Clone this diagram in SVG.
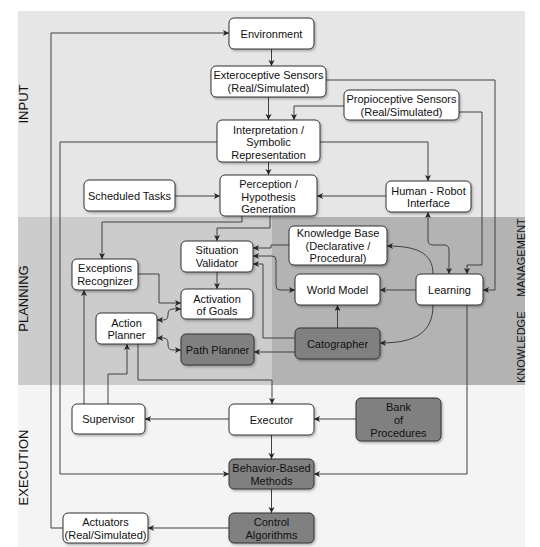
<svg xmlns="http://www.w3.org/2000/svg" width="540" height="547" viewBox="0 0 540 547">
<defs>
<style>
.nd{fill:#ffffff;stroke:#333333;stroke-width:1}
.dk{fill:#808080;stroke:#333333;stroke-width:1}
text{font-family:"Liberation Sans",Arial,sans-serif;font-size:11px;fill:#111111;text-anchor:middle}
.lbl{font-size:13px;text-anchor:middle;fill:#111111}
.km{font-size:11px;text-anchor:start}
.c{fill:none;stroke:#404040;stroke-width:1;stroke-linejoin:round}
</style>
<filter id="sh" x="-10%" y="-10%" width="130%" height="140%">
<feDropShadow dx="1.2" dy="1.5" stdDeviation="0.8" flood-color="#000" flood-opacity="0.3"/>
</filter>
<marker id="a" markerWidth="7" markerHeight="7" refX="6" refY="3" orient="auto-start-reverse" markerUnits="userSpaceOnUse">
<path d="M0,0 L6,3 L0,6 L1.5,3 z" fill="#262626"/>
</marker>
</defs>

<g id="background">
<rect x="18" y="11" width="507" height="206" fill="#e6e6e6"/>
<rect x="18" y="217" width="507" height="168" fill="#cccccc"/>
<rect x="272" y="217" width="253" height="168" fill="#b3b3b3"/>
<rect x="18" y="385" width="507" height="162" fill="#f4f4f4"/>
<text class="lbl" transform="translate(28,104) rotate(-90)">INPUT</text>
<text class="lbl" transform="translate(28,298.5) rotate(-90)">PLANNING</text>
<text class="lbl" transform="translate(28,467.5) rotate(-90)">EXECUTION</text>
<text class="km" transform="translate(525,383) rotate(-90)">KNOWLEDGE</text>
<text class="km" transform="translate(525,297) rotate(-90)">MANAGEMENT</text>
</g>

<g id="connectors">
<path class="c" marker-end="url(#a)" d="M271.5,49 L271.5,66"/>
<path class="c" marker-end="url(#a)" d="M268.5,97 L268.5,120"/>
<path class="c" marker-end="url(#a)" d="M268.5,162 L268.5,175"/>
<path class="c" marker-end="url(#a)" d="M326,80 L495,80 L495,290 L483,290"/>
<path class="c" marker-end="url(#a)" d="M459,112 L482,112 L482,265 L467,265 L467,274"/>
<path class="c" marker-end="url(#a)" d="M344,106 L294,106 L294,120"/>
<path class="c" marker-end="url(#a)" d="M320,142 L428,142 L428,181"/>
<path class="c" marker-end="url(#a)" d="M386,196 L317,196"/>
<path class="c" marker-end="url(#a)" d="M175,196 L220,196"/>
<path class="c" marker-end="url(#a)" d="M217,142 L60,142 L60,474 L229,474"/>
<path class="c" marker-end="url(#a)" d="M63,528 L51,528 L51,33 L229,33"/>
<path class="c" marker-start="url(#a)" marker-end="url(#a)" d="M428,212 L428,240 Q428,245 433,245 L444,245 Q449,245 449,250 L449,274"/>
<path class="c" marker-end="url(#a)" d="M242,216 L242,222 L102,222 L102,259"/>
<path class="c" marker-end="url(#a)" d="M270,216 L270,228 L217,228 L217,241"/>
<path class="c" marker-end="url(#a)" d="M289,245 L271,245 L271,248 L253,248"/>
<path class="c" marker-start="url(#a)" marker-end="url(#a)" d="M253,256 L272,256 Q276,256 276,260 L276,286 Q276,290 280,290 L295,290"/>
<path class="c" marker-end="url(#a)" d="M295,338 L263,338 L263,264 L253,264"/>
<path class="c" marker-end="url(#a)" d="M295,352 L254,352"/>
<path class="c" marker-end="url(#a)" d="M433,274 C433,252 415,246 387,246"/>
<path class="c" marker-end="url(#a)" d="M416,290 L380,290"/>
<path class="c" marker-end="url(#a)" d="M433,305 C433,333 415,343 380,343"/>
<path class="c" marker-end="url(#a)" d="M337.5,328 L337.5,305"/>
<path class="c" marker-end="url(#a)" d="M467,305 L467,474 L314,474"/>
<path class="c" marker-end="url(#a)" d="M217,272 L217,289"/>
<path class="c" marker-end="url(#a)" d="M138,274 L159,274 L159,303 L181,303"/>
<path class="c" marker-start="url(#a)" marker-end="url(#a)" d="M157,320 L163,320 Q168,320 168,315 L168,314 Q168,309 173,309 L181,309"/>
<path class="c" marker-start="url(#a)" marker-end="url(#a)" d="M157,338 L163,338 Q168,338 168,343 L168,345 Q168,350 173,350 L181,350"/>
<path class="c" marker-end="url(#a)" d="M138,344 L138,380 L272,380 L272,404"/>
<path class="c" marker-end="url(#a)" d="M108,404 L108,374 L127,374 L127,344"/>
<path class="c" marker-end="url(#a)" d="M84,404 L84,290"/>
<path class="c" marker-end="url(#a)" d="M229,419 L145,419"/>
<path class="c" marker-end="url(#a)" d="M356,419 L314,419"/>
<path class="c" marker-end="url(#a)" d="M271.5,435 L271.5,459"/>
<path class="c" marker-end="url(#a)" d="M271.5,489 L271.5,513"/>
<path class="c" marker-end="url(#a)" d="M229,528 L148,528"/>
</g>

<g id="environment"><rect class="nd" filter="url(#sh)" x="229" y="18" width="85" height="31" rx="5"/><text x="271.5" y="37.5">Environment</text></g>
<g id="exteroceptive"><rect class="nd" filter="url(#sh)" x="211" y="66" width="115" height="31" rx="5"/><text x="268.5" y="79">Exteroceptive Sensors</text><text x="268.5" y="92">(Real/Simulated)</text></g>
<g id="propioceptive"><rect class="nd" filter="url(#sh)" x="344" y="90" width="115" height="30" rx="5"/><text x="401.5" y="103">Propioceptive Sensors</text><text x="401.5" y="116">(Real/Simulated)</text></g>
<g id="interpretation"><rect class="nd" filter="url(#sh)" x="217" y="120" width="103" height="42" rx="5"/><text x="268.5" y="133.5">Interpretation /</text><text x="268.5" y="146">Symbolic</text><text x="268.5" y="158.5">Representation</text></g>
<g id="perception"><rect class="nd" filter="url(#sh)" x="220" y="175" width="97" height="41" rx="5"/><text x="268.5" y="188">Perception /</text><text x="268.5" y="200.5">Hypothesis</text><text x="268.5" y="213">Generation</text></g>
<g id="scheduled"><rect class="nd" filter="url(#sh)" x="84" y="180" width="91" height="31" rx="5"/><text x="129.5" y="199.5">Scheduled Tasks</text></g>
<g id="hri"><rect class="nd" filter="url(#sh)" x="386" y="181" width="85" height="31" rx="5"/><text x="428.5" y="194.5">Human - Robot</text><text x="428.5" y="206.5">Interface</text></g>
<g id="kb"><rect class="nd" filter="url(#sh)" x="289" y="226" width="98" height="39" rx="5"/><text x="338" y="237">Knowledge Base</text><text x="338" y="249.5">(Declarative /</text><text x="338" y="262">Procedural)</text></g>
<g id="sv"><rect class="nd" filter="url(#sh)" x="181" y="241" width="72" height="31" rx="5"/><text x="217" y="254">Situation</text><text x="217" y="266.5">Validator</text></g>
<g id="wm"><rect class="nd" filter="url(#sh)" x="295" y="274" width="85" height="31" rx="5"/><text x="337.5" y="293.5">World Model</text></g>
<g id="learning"><rect class="nd" filter="url(#sh)" x="416" y="274" width="67" height="31" rx="5"/><text x="449.5" y="293.5">Learning</text></g>
<g id="exceptions"><rect class="nd" filter="url(#sh)" x="72" y="259" width="66" height="31" rx="5"/><text x="105" y="272">Exceptions</text><text x="105" y="284.5">Recognizer</text></g>
<g id="activation"><rect class="nd" filter="url(#sh)" x="181" y="289" width="72" height="30" rx="5"/><text x="217" y="303">Activation</text><text x="217" y="315">of Goals</text></g>
<g id="actionplanner"><rect class="nd" filter="url(#sh)" x="96" y="313" width="61" height="31" rx="5"/><text x="126.5" y="327">Action</text><text x="126.5" y="339">Planner</text></g>
<g id="pathplanner"><rect class="dk" filter="url(#sh)" x="181" y="334" width="73" height="31" rx="5"/><text x="217.5" y="353.5">Path Planner</text></g>
<g id="catographer"><rect class="dk" filter="url(#sh)" x="295" y="328" width="85" height="31" rx="5"/><text x="337.5" y="347.5">Catographer</text></g>
<g id="supervisor"><rect class="nd" filter="url(#sh)" x="72" y="404" width="73" height="30" rx="5"/><text x="108.5" y="423">Supervisor</text></g>
<g id="executor"><rect class="nd" filter="url(#sh)" x="229" y="404" width="85" height="31" rx="5"/><text x="271.5" y="423.5">Executor</text></g>
<g id="bank"><rect class="dk" filter="url(#sh)" x="356" y="398" width="85" height="43" rx="5"/><text x="398.5" y="410.5">Bank</text><text x="398.5" y="423.5">of</text><text x="398.5" y="436.5">Procedures</text></g>
<g id="bbm"><rect class="dk" filter="url(#sh)" x="229" y="459" width="85" height="30" rx="5"/><text x="271.5" y="472">Behavior-Based</text><text x="271.5" y="484.5">Methods</text></g>
<g id="control"><rect class="dk" filter="url(#sh)" x="229" y="513" width="85" height="30" rx="5"/><text x="271.5" y="526">Control</text><text x="271.5" y="539">Algorithms</text></g>
<g id="actuators"><rect class="nd" filter="url(#sh)" x="63" y="513" width="85" height="30" rx="5"/><text x="105.5" y="526">Actuators</text><text x="105.5" y="539">(Real/Simulated)</text></g>
</svg>
